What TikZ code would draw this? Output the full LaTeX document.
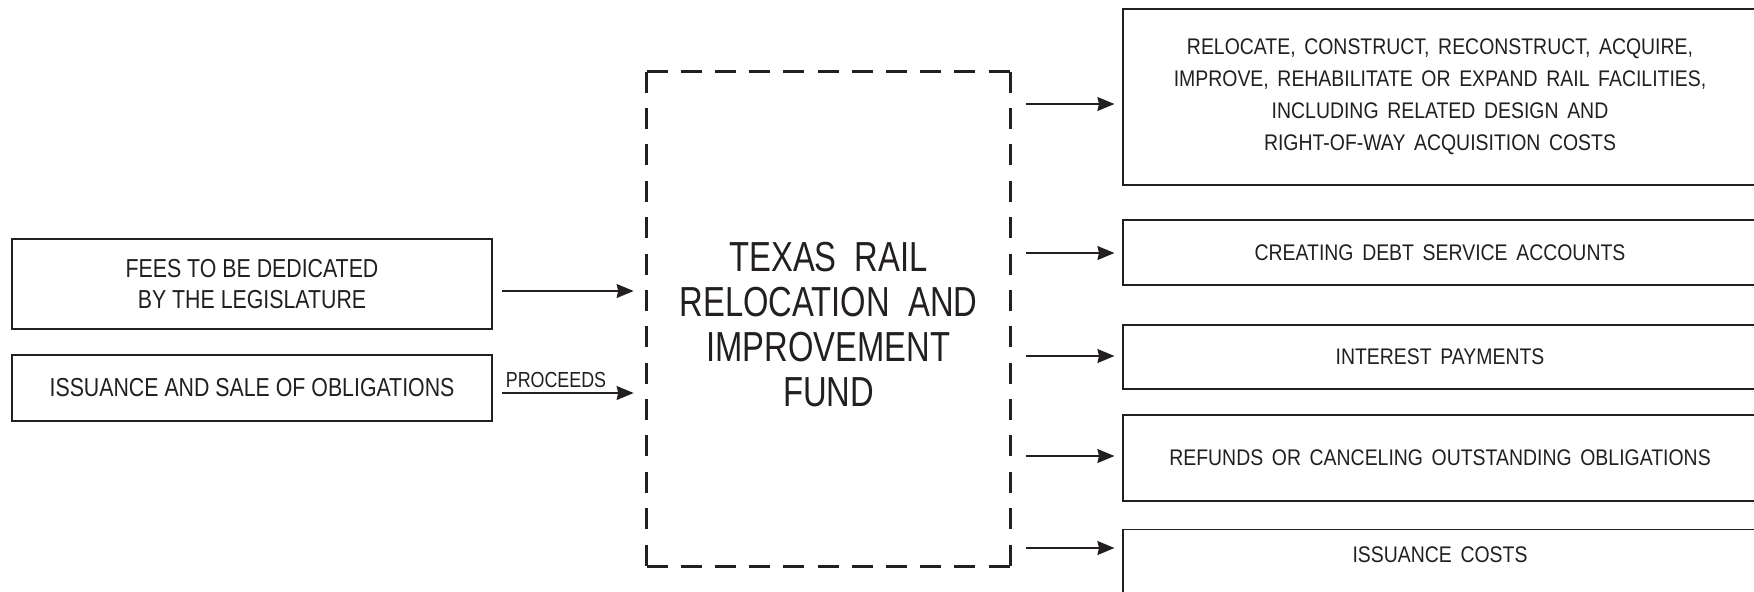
\documentclass[tikz,border=0pt]{standalone}
\usepackage{fontspec}
\setmainfont{Liberation Sans}[FakeStretch=0.82]
\newfontfamily\rfont{Liberation Sans}[FakeStretch=0.86, WordSpace=1.6]
\newfontfamily\cfont{Liberation Sans}[FakeStretch=0.78, WordSpace=2]
\usetikzlibrary{arrows.meta}
\definecolor{ink}{HTML}{231F20}
\tikzset{
  lbox/.style={draw=ink, line width=0.6pt, minimum width=240pt, align=center,
    font=\rmfamily\fontsize{13}{15.5}\selectfont, inner sep=0pt},
  rbox/.style={draw=ink, line width=0.6pt, minimum width=317pt, align=center,
    font=\rfont\fontsize{11.3}{16}\selectfont, inner sep=0pt},
  fundside/.style={draw=ink, line width=1.5pt, line cap=square},
  arr/.style={draw=ink, line width=0.7pt, -{Stealth[length=8.5pt,width=7pt,inset=0.8pt]}},
  lbl/.style={font=\rmfamily\fontsize{10.9}{12}\selectfont, inner sep=0pt}
}
\begin{document}
\begin{tikzpicture}[x=0.5pt, y=-0.5pt, text=ink]
\useasboundingbox (0,0) rectangle (1754,591);
% left sources
\node[lbox, minimum height=45pt] (l1) at (252,284) {FEES TO BE DEDICATED\\BY THE LEGISLATURE};
\node[lbox, minimum height=33pt] (l2) at (252,388) {ISSUANCE AND SALE OF OBLIGATIONS};
% fund
\node[minimum width=181.5pt, minimum height=247pt, inner sep=0pt] (fund) at (828.5,319) {};
\draw[fundside, dash pattern=on 10.5pt off 6.6pt] (fund.north west) -- (fund.north east);
\draw[fundside, dash pattern=on 10.5pt off 6.6pt] (fund.south west) -- (fund.south east);
\draw[fundside, dash pattern=on 10.5pt off 7.69pt] (fund.north west) -- (fund.south west);
\draw[fundside, dash pattern=on 10.5pt off 7.69pt] (fund.north east) -- (fund.south east);
\node[align=center, inner sep=0pt, font=\cfont\fontsize{21}{22.5}\selectfont] (fundtxt) at (828.5,325)
  {TEXAS RAIL\\RELOCATION AND\\IMPROVEMENT\\FUND};
% right uses
\node[rbox, minimum height=88pt] (r1) at (1440,97) {RELOCATE, CONSTRUCT, RECONSTRUCT, ACQUIRE,\\IMPROVE, REHABILITATE OR EXPAND RAIL FACILITIES,\\INCLUDING RELATED DESIGN AND\\RIGHT-OF-WAY ACQUISITION COSTS};
\node[rbox, minimum height=32.5pt] (r2) at (1440,252.5) {CREATING DEBT SERVICE ACCOUNTS};
\node[rbox, minimum height=32pt] (r3) at (1440,357) {INTEREST PAYMENTS};
\node[rbox, minimum height=43pt] (r4) at (1440,458) {REFUNDS OR CANCELING OUTSTANDING OBLIGATIONS};
\node[rbox, anchor=north, inner ysep=8.5pt, text height=8pt, text depth=30pt] (r5) at (1440,529) {ISSUANCE COSTS};
% arrows in
\coordinate (a1) at (502,291);
\coordinate (a2) at (502,393);
\draw[arr, shorten >=6.5pt] (a1) -- (a1 -| fund.west);
\draw[arr, shorten >=6.5pt] (a2) -- (a2 -| fund.west);
\node[lbl] (proc) at (556,380) {PROCEEDS};
% arrows out
\coordinate (b1) at (1026,104);
\coordinate (b2) at (1026,253);
\coordinate (b3) at (1026,356);
\coordinate (b4) at (1026,456);
\coordinate (b5) at (1026,548);
\draw[arr, shorten >=4pt] (b1) -- (b1 -| r1.west);
\draw[arr, shorten >=4pt] (b2) -- (b2 -| r2.west);
\draw[arr, shorten >=4pt] (b3) -- (b3 -| r3.west);
\draw[arr, shorten >=4pt] (b4) -- (b4 -| r4.west);
\draw[arr, shorten >=4pt] (b5) -- (b5 -| r5.west);
\end{tikzpicture}
\end{document}
